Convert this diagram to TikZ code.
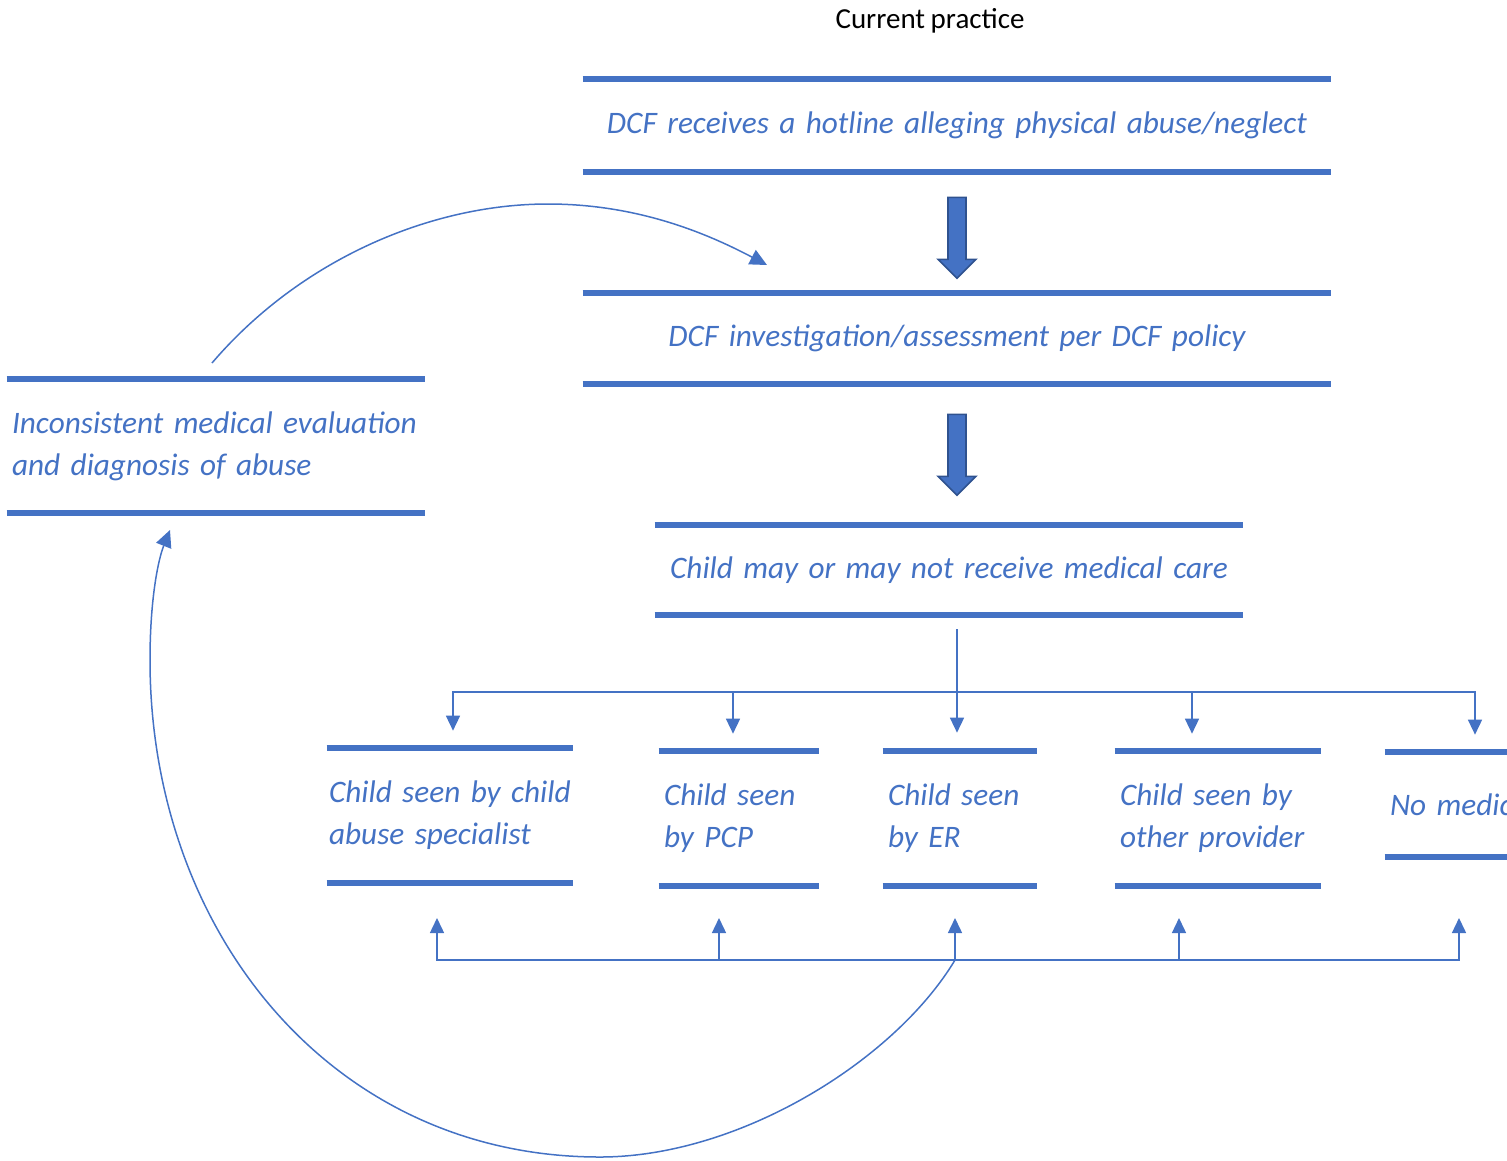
\documentclass[tikz,border=0pt]{standalone}
\usepackage{fontspec}
\setmainfont{Carlito}[WordSpace=0.85]
\usetikzlibrary{arrows.meta,positioning,calc}
\definecolor{dcfblue}{HTML}{4472C4}
\definecolor{dcfdark}{HTML}{2F528F}

\begin{document}
\begin{tikzpicture}[x=0.02cm,y=-0.02cm,
	box/.style={inner xsep=0.1cm,inner ysep=0pt,font=\fontsize{17.8}{24}\selectfont\itshape,text=dcfblue,
		execute at begin node={\hyphenpenalty=10000\relax}},
	bar/.style={dcfblue,line width=0.12cm},
	conn/.style={dcfblue,line width=0.03cm},
	tip/.style={-{Triangle[width=0.28cm,length=0.3cm]}},
	bigtip/.style={-{Triangle[width=0.32cm,length=0.34cm]}},
	blockarr/.style={fill=dcfblue,draw=dcfdark,line width=0.9pt,line join=miter}
	]
	\useasboundingbox (0,0) rectangle (1507,1160);
	\clip (0,0) rectangle (1507,1160);

	\node[font=\fontsize{16.5}{20}\selectfont] (title) at (930,21) {Current practice};

	% main column
	\node[box,align=center,text width=14.76cm,minimum height=1.86cm] (hot) at (957,125.5) {DCF receives a hotline alleging physical abuse/neglect};
	\node[box,align=center,text width=14.76cm,minimum height=1.82cm] (inv) at (957,338.5) {DCF investigation/assessment per DCF policy};
	\node[box,align=center,text width=11.56cm,minimum height=1.8cm] (med) at (949,570) {Child may or may not receive medical care};

	% outcomes
	\node[box,align=left,inner xsep=0.04cm,text width=4.84cm,minimum height=2.7cm] (spec) at (450,815.5) {Child seen by child\\abuse specialist};
	\node[box,align=left,text width=3.0cm,minimum height=2.7cm] (pcp) at (739,818.5) {Child seen\\by PCP};
	\node[box,align=left,text width=2.88cm,minimum height=2.7cm] (er) at (960,818.5) {Child seen\\by ER};
	\node[box,align=left,text width=3.92cm,minimum height=2.7cm] (oth) at (1218,818.5) {Child seen by\\other provider};
	\node[box,align=left,text width=5.2cm,minimum height=2.1cm] (nomed) at (1520,804.5) {No medical care};

	\node[box,align=left,text width=8.16cm,minimum height=2.68cm] (incon) at (216,446) {Inconsistent medical evaluation\\and diagnosis of abuse};

	\foreach \n in {hot,inv,med,spec,pcp,er,oth,nomed,incon}{
		\draw[bar] (\n.north west) -- (\n.north east);
		\draw[bar] (\n.south west) -- (\n.south east);
	}

	% block arrows
	\foreach \n/\g in {hot/25,inv/30}
		\draw[blockarr] (\n.south) ++(-9,\g) -- ++(18,0) -- ++(0,62) -- ++(10,0) -- ++(-19,19) -- ++(-19,-19) -- ++(10,0) -- cycle;

	% split to the outcomes
	\coordinate (hub) at (957,692);
	\draw[conn,tip,shorten <=0.28cm,shorten >=0.36cm] (hub |- med.south) -- (hub |- er.north);
	\foreach \x/\n in {453/spec,733/pcp,1192/oth,1475/nomed}{
		\coordinate (d\n) at (\x,692);
		\draw[conn,tip,shorten >=0.34cm] (hub) -| (d\n |- \n.north);
	}

	% back from the outcomes
	\coordinate (base) at (955,960);
	\foreach \x/\n in {437/spec,719/pcp,955/er,1179/oth,1459/nomed}{
		\coordinate (u\n) at (\x,918);
		\draw[conn,tip] (base) -| (u\n);
	}

	\coordinate (loopin) at (170,530);
	\draw[conn,bigtip] (base) .. controls (895,1060) and (740,1157) .. (600,1157)
		.. controls (330,1157) and (150,930) .. (150,660)
		.. controls (150,600) and (158,560) .. (loopin);

	\coordinate (loopout) at (212,363);
	\coordinate (backin) at (767,265);
	\draw[conn,bigtip] (loopout) .. controls (300,260) and (430,204) .. (548,204)
		.. controls (640,204) and (710,235) .. (backin);

\end{tikzpicture}
\end{document}
